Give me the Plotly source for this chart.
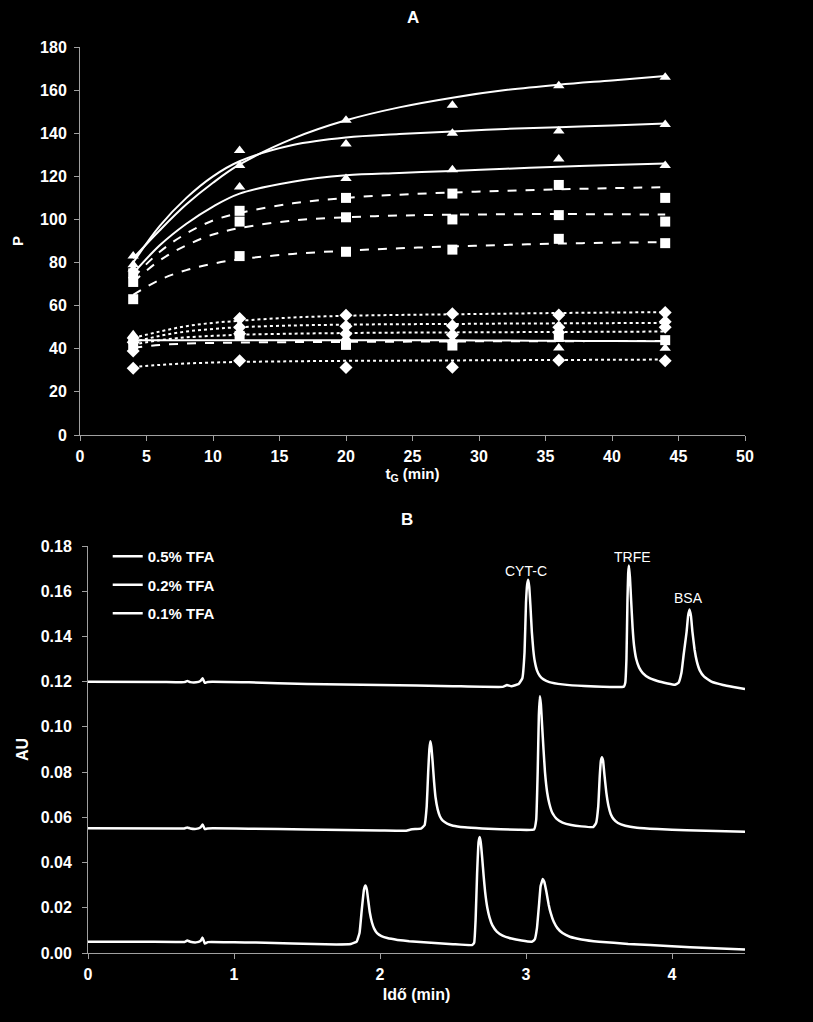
import plotly.graph_objects as go

# ---------------- Panel A data ----------------
tG = [4, 12, 20, 28, 36, 44]
# measured points
tri_1 = [83, 132, 146, 153, 162, 166]
tri_2 = [79, 125, 135, 140, 141, 144]
tri_3 = [77, 115, 119, 123, 128, 125]
tri_4 = [46.5, 48, 45, 44, 40.4, 40.3]
sq_1 = [75, 104, 110, 112, 116, 110]
sq_2 = [71, 99, 101, 100, 102, 99]
sq_3 = [63, 83, 85, 86, 91, 89]
sq_4 = [42, 46, 41.8, 41.5, 45.5, 44]
dia_1 = [45, 54, 55.5, 56.2, 55.7, 56.8]
dia_2 = [43, 50, 50.5, 50.7, 50, 52.5]
dia_3 = [39, 47, 47, 46.5, 47.5, 50]
dia_4 = [31, 34.4, 31.3, 31.4, 34.7, 34.5]

# fitted curves
t_fit = [4, 6, 8, 10, 12, 16, 20, 24, 28, 32, 36, 40, 44]
fit_tri_1 = [82, 95, 107, 117, 125.5, 137.5, 146, 152, 156.5, 160, 162.5, 164.5, 166.5]
fit_tri_2 = [80, 97, 110, 120, 127, 134.5, 138, 139.6, 140.8, 142, 142.8, 143.6, 144.5]
fit_tri_3 = [75, 88, 98, 106, 112, 117.5, 120.5, 121.6, 122.5, 123.5, 124.5, 125.3, 126]
fit_tri_4 = [44, 44, 44, 44, 44, 44, 44, 43.9, 43.9, 43.8, 43.7, 43.6, 43.5]
fit_sq_1 = [73, 85, 93.5, 99.5, 103, 107.5, 110, 111.5, 112.5, 113.3, 114, 114.5, 115]
fit_sq_2 = [71, 81, 88, 93, 96, 99.5, 101, 101.8, 102.2, 102.4, 102.5, 102.4, 102.3]
fit_sq_3 = [65, 72, 76.5, 79.5, 81.5, 84, 85.5, 86.6, 87.5, 88.2, 88.8, 89.2, 89.5]
fit_sq_4 = [40.5, 41.8, 42.4, 42.7, 42.9, 43.1, 43.2, 43.3, 43.4, 43.5, 43.5, 43.6, 43.6]
fit_dia_1 = [45, 48, 50.5, 52, 53, 54.5, 55.3, 55.7, 56, 56.3, 56.6, 56.8, 57]
fit_dia_2 = [43, 46, 48, 49.2, 50, 50.8, 51.2, 51.4, 51.5, 51.7, 51.8, 51.9, 52]
fit_dia_3 = [42, 44, 45.3, 46, 46.5, 47, 47.3, 47.5, 47.6, 47.7, 47.8, 47.9, 48]
fit_dia_4 = [31.5, 32.5, 33.2, 33.6, 33.9, 34.2, 34.4, 34.5, 34.6, 34.7, 34.8, 34.9, 35]

# ---------------- Panel B data (time min, AU) ----------------
trace_05 = [
    (0, 0.1200), (0.5, 0.1199), (0.66, 0.1198), (0.68, 0.1203), (0.70, 0.1198), (0.74, 0.1197),
    (0.77, 0.1203), (0.785, 0.1215), (0.80, 0.1195), (0.82, 0.1199), (1.1, 0.1197), (1.5, 0.1190),
    (2.0, 0.1185), (2.5, 0.1180), (2.84, 0.1177), (2.87, 0.1185), (2.90, 0.1180), (2.95, 0.1190),
    (2.975, 0.1215), (2.99, 0.1330), (3.00, 0.1550), (3.008, 0.1630), (3.015, 0.1651), (3.022, 0.1620),
    (3.03, 0.1540), (3.04, 0.1420), (3.05, 0.1340), (3.06, 0.1290), (3.075, 0.1250), (3.095, 0.1225),
    (3.12, 0.1210), (3.16, 0.1198), (3.25, 0.1188), (3.4, 0.1181), (3.67, 0.1178),
    (3.68, 0.1195), (3.688, 0.1300), (3.695, 0.1560), (3.70, 0.1680), (3.705, 0.1714), (3.712, 0.1660),
    (3.72, 0.1560), (3.73, 0.1440), (3.74, 0.1360), (3.755, 0.1300), (3.775, 0.1262), (3.80, 0.1238),
    (3.84, 0.1218), (3.9, 0.1203), (3.97, 0.1192), (4.02, 0.1186),
    (4.045, 0.1195), (4.065, 0.1240), (4.08, 0.1320), (4.09, 0.1370), (4.10, 0.1420), (4.11, 0.1490),
    (4.12, 0.1519), (4.13, 0.1490), (4.14, 0.1420), (4.155, 0.1340), (4.17, 0.1290), (4.19, 0.1250),
    (4.22, 0.1222), (4.27, 0.1200), (4.35, 0.1185), (4.42, 0.1176), (4.5, 0.1167),
]
trace_02 = [
    (0, 0.0552), (0.6, 0.0551), (0.66, 0.0551), (0.68, 0.0555), (0.70, 0.0551), (0.74, 0.0549),
    (0.77, 0.0555), (0.785, 0.0568), (0.80, 0.0548), (0.82, 0.0551), (1.1, 0.0550), (1.5, 0.0546),
    (2.0, 0.0542), (2.18, 0.0541), (2.21, 0.0546), (2.24, 0.0548), (2.28, 0.0550),
    (2.305, 0.0565), (2.32, 0.0650), (2.33, 0.0800), (2.338, 0.0900), (2.345, 0.0937), (2.352, 0.0910),
    (2.36, 0.0850), (2.37, 0.0760), (2.38, 0.0690), (2.395, 0.0635), (2.41, 0.0605), (2.43, 0.0585),
    (2.46, 0.0572), (2.5, 0.0563), (2.58, 0.0556), (2.7, 0.0551), (2.95, 0.0545), (3.055, 0.0546),
    (3.07, 0.0590), (3.08, 0.0800), (3.088, 0.1050), (3.095, 0.1136), (3.102, 0.1100), (3.11, 0.1010),
    (3.12, 0.0900), (3.13, 0.0800), (3.145, 0.0710), (3.16, 0.0660), (3.18, 0.0620), (3.21, 0.0593),
    (3.25, 0.0577), (3.31, 0.0566), (3.38, 0.0560), (3.46, 0.0557),
    (3.48, 0.0575), (3.495, 0.0650), (3.505, 0.0780), (3.513, 0.0850), (3.52, 0.0866), (3.528, 0.0850),
    (3.537, 0.0790), (3.55, 0.0710), (3.565, 0.0650), (3.58, 0.0615), (3.60, 0.0592), (3.63, 0.0575),
    (3.68, 0.0563), (3.76, 0.0554), (3.9, 0.0548), (4.1, 0.0543), (4.5, 0.0536),
]
trace_01 = [
    (0, 0.0050), (0.3, 0.0050), (0.6, 0.0049), (0.66, 0.0049), (0.68, 0.0055), (0.70, 0.0050),
    (0.74, 0.0047), (0.77, 0.0053), (0.785, 0.0068), (0.80, 0.0042), (0.82, 0.0048), (1.0, 0.0047),
    (1.15, 0.0046), (1.4, 0.0042), (1.7, 0.0038), (1.80, 0.0040),
    (1.84, 0.0050), (1.86, 0.0090), (1.875, 0.0190), (1.89, 0.0280), (1.90, 0.0298), (1.91, 0.0280),
    (1.92, 0.0230), (1.93, 0.0180), (1.945, 0.0135), (1.96, 0.0108), (1.98, 0.0088), (2.01, 0.0075),
    (2.05, 0.0066), (2.12, 0.0058), (2.2, 0.0052), (2.35, 0.0045), (2.5, 0.0039), (2.63, 0.0035),
    (2.645, 0.0045), (2.655, 0.0150), (2.665, 0.0350), (2.675, 0.0490), (2.683, 0.0513), (2.69, 0.0490),
    (2.70, 0.0420), (2.71, 0.0340), (2.72, 0.0270), (2.735, 0.0200), (2.75, 0.0158), (2.77, 0.0122),
    (2.80, 0.0095), (2.84, 0.0077), (2.9, 0.0064), (2.97, 0.0055), (3.04, 0.0050),
    (3.06, 0.0060), (3.075, 0.0110), (3.09, 0.0220), (3.10, 0.0295), (3.115, 0.0327), (3.125, 0.0315),
    (3.14, 0.0270), (3.155, 0.0215), (3.17, 0.0175), (3.19, 0.0138), (3.215, 0.0110), (3.25, 0.0088),
    (3.3, 0.0072), (3.38, 0.0060), (3.5, 0.0050), (3.7, 0.0040), (4.0, 0.0030), (4.25, 0.0022),
    (4.5, 0.0015),
]

legend_names = ["0.5% TFA", "0.2% TFA", "0.1% TFA"]
peak_labels = ["CYT-C", "TRFE", "BSA"]
peak_label_t = [3.0, 3.73, 4.11]
peak_label_au = [0.169, 0.175, 0.157]

# ---------------- Figure ----------------
W = "white"
FONT = "Liberation Sans, Arial, sans-serif"
NARROW = "Liberation Sans Narrow, Arial Narrow, Liberation Sans, sans-serif"
fig = go.Figure()

fit_sets = [
    (fit_tri_1, "solid"), (fit_tri_2, "solid"), (fit_tri_3, "solid"), (fit_tri_4, "solid"),
    (fit_sq_1, "dash"), (fit_sq_2, "dash"), (fit_sq_3, "dash"), (fit_sq_4, "dash"),
    (fit_dia_1, "dot"), (fit_dia_2, "dot"), (fit_dia_3, "dot"), (fit_dia_4, "dot"),
]
for ys, dash in fit_sets:
    fig.add_trace(go.Scatter(x=t_fit, y=ys, mode="lines", line=dict(color=W, width=2, dash=dash, shape="spline"),
                             showlegend=False, hoverinfo="skip", xaxis="x", yaxis="y"))

pt_sets = [
    (tri_1, "triangle-up"), (tri_2, "triangle-up"), (tri_3, "triangle-up"), (tri_4, "triangle-up"),
    (sq_1, "square"), (sq_2, "square"), (sq_3, "square"), (sq_4, "square"),
    (dia_1, "diamond"), (dia_2, "diamond"), (dia_3, "diamond"), (dia_4, "diamond"),
]
for ys, sym in pt_sets:
    fig.add_trace(go.Scatter(x=tG, y=ys, mode="markers", marker=dict(color=W, symbol=sym, size=10, line=dict(width=0)),
                             showlegend=False, xaxis="x", yaxis="y"))

for i, pts in enumerate([trace_05, trace_02, trace_01]):
    tt = [p[0] for p in pts]
    aa = [p[1] for p in pts]
    fig.add_trace(go.Scatter(x=tt, y=aa, mode="lines", name=legend_names[i], legendgroup=str(i),
                             line=dict(color=W, width=2.5, shape="spline", smoothing=0.3),
                             xaxis="x2", yaxis="y2"))

axis_common = dict(showline=True, linecolor="#a0a0a0", linewidth=1, ticks="outside", ticklen=5,
                   tickcolor="#a0a0a0", showgrid=False, zeroline=False, automargin=False)
tick_a = dict(color=W, size=16, family=NARROW, weight="bold")
tick_b = dict(color=W, size=16, family=FONT, weight="bold")

fig.update_layout(
    template="none",
    width=813, height=1022,
    paper_bgcolor="black", plot_bgcolor="black",
    margin=dict(l=0, r=0, t=0, b=0, pad=0, autoexpand=False),
    font=dict(family=FONT, color=W),
    xaxis=dict(domain=[80 / 813, 745 / 813], range=[0, 50], dtick=5, anchor="y", tickfont=tick_a,
               ticklabelstandoff=2,
               title=dict(text="t<sub>G</sub> (min)", font=dict(size=15, weight="bold", family=NARROW), standoff=4),
               **axis_common),
    yaxis=dict(domain=[1 - 435 / 1022, 1 - 47 / 1022], range=[0, 180], dtick=20, anchor="x", tickfont=tick_a,
               ticklabelstandoff=4,
               title=dict(text="P", font=dict(size=15, weight="bold"), standoff=12),
               **axis_common),
    xaxis2=dict(domain=[88 / 813, 745 / 813], range=[0, 4.5], dtick=1, anchor="y2", tickfont=tick_b,
                ticklabelstandoff=2,
                title=dict(text="Idő (min)", font=dict(size=16, weight="bold", family=NARROW), standoff=6),
                **axis_common),
    yaxis2=dict(domain=[1 - 953 / 1022, 1 - 546 / 1022], range=[0, 0.18], dtick=0.02, tickformat=".2f",
                anchor="x2", tickfont=tick_b, ticklabelstandoff=7,
                title=dict(text="AU", font=dict(size=16, weight="bold"), standoff=8),
                **axis_common),
    legend=dict(x=0.1325, y=1 - 540 / 1022, xanchor="left", yanchor="top", bgcolor="rgba(0,0,0,0)",
                font=dict(size=15, color=W, weight="bold"), tracegroupgap=6, itemwidth=30),
    showlegend=True,
)

fig.add_annotation(text="A", x=413 / 813, y=1 - 18 / 1022, xref="paper", yref="paper", showarrow=False,
                   yanchor="middle", font=dict(size=17, color=W, weight="bold"))
fig.add_annotation(text="B", x=407 / 813, y=1 - 519 / 1022, xref="paper", yref="paper", showarrow=False,
                   yanchor="middle", font=dict(size=17, color=W, weight="bold"))
for lab, xt, ya in zip(peak_labels, peak_label_t, peak_label_au):
    fig.add_annotation(text=lab, x=xt, y=ya, xref="x2", yref="y2", showarrow=False,
                       font=dict(size=14, color=W))

fig.write_html("out.html")
